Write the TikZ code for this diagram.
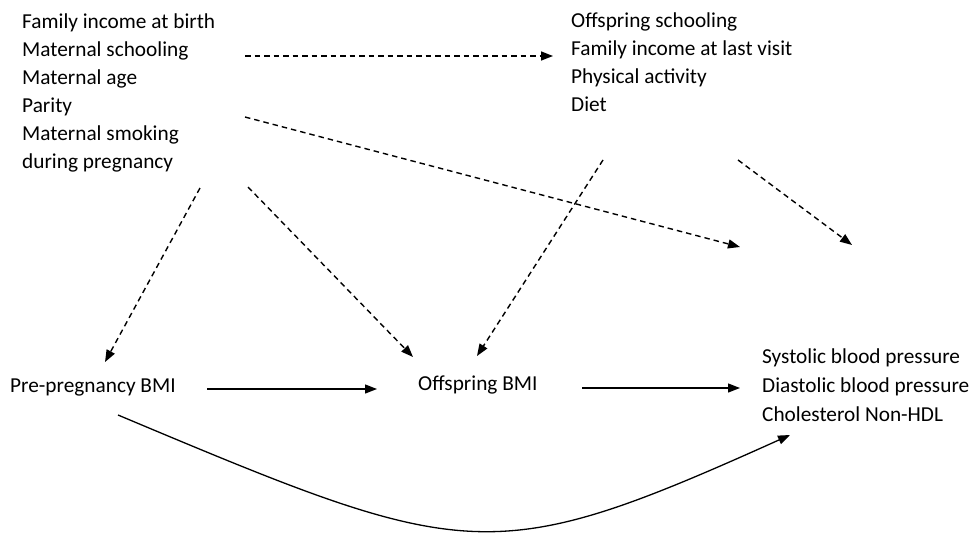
\documentclass[tikz,border=0pt]{standalone}
\usepackage{fontspec}
\setmainfont{Carlito}
\usetikzlibrary{arrows.meta}
\begin{document}
\begin{tikzpicture}[x=1pt,y=-1pt,
  lbl/.style={font=\fontsize{21.3}{28}\selectfont, align=left, inner sep=0pt, anchor=base west},
  lblout/.style={font=\fontsize{21.3}{29}\selectfont, align=left, inner sep=0pt, anchor=base west},
  dasharrow/.style={draw=black, line width=1.4pt, dash pattern=on 5.5pt off 4pt, -{Triangle[length=12pt,width=9pt]}},
  solidarrow/.style={draw=black, line width=1.3pt, -{Triangle[length=12pt,width=9pt]}}]
\useasboundingbox (0,0) rectangle (972,533);
% nodes (anchored at the baseline of their last line)
\node[lbl] (conf) at (22,168) {Family income at birth\\Maternal schooling\\Maternal age\\Parity\\Maternal smoking\\during pregnancy};
\node[lbl] (life) at (571,111) {Offspring schooling\\Family income at last visit\\Physical activity\\Diet};
\node[lbl] (pre) at (10,392) {Pre-pregnancy BMI};
\node[lbl] (obmi) at (418,390) {Offspring BMI};
\node[lblout] (out) at (762,421) {Systolic blood pressure\\Diastolic blood pressure\\Cholesterol Non-HDL};
% connector end points
\coordinate (conf-e1) at (245,56);
\coordinate (life-w) at (553,56);
\coordinate (conf-e2) at (245,117);
\coordinate (out-n1) at (740,247);
\coordinate (conf-s1) at (200,188);
\coordinate (pre-n) at (105,362);
\coordinate (conf-s2) at (248,187);
\coordinate (obmi-n1) at (413,357);
\coordinate (life-s1) at (603,160);
\coordinate (obmi-n2) at (477,356);
\coordinate (life-s2) at (738,160);
\coordinate (out-n2) at (852,245);
\coordinate (pre-e) at (207,389);
\coordinate (obmi-w) at (377,389);
\coordinate (obmi-e) at (582,388);
\coordinate (out-w) at (740,388);
\coordinate (pre-se) at (118,415);
\coordinate (out-sw) at (790,435);
% connectors
\draw[dasharrow] (conf-e1) -- (life-w);
\draw[dasharrow] (conf-e2) -- (out-n1);
\draw[dasharrow] (conf-s1) -- (pre-n);
\draw[dasharrow] (conf-s2) -- (obmi-n1);
\draw[dasharrow] (life-s1) -- (obmi-n2);
\draw[dasharrow] (life-s2) -- (out-n2);
\draw[solidarrow] (pre-e) -- (obmi-w);
\draw[solidarrow] (obmi-e) -- (out-w);
\draw[solidarrow] (pre-se) .. controls (468,562) and (490,570) .. (out-sw);
\end{tikzpicture}
\end{document}
